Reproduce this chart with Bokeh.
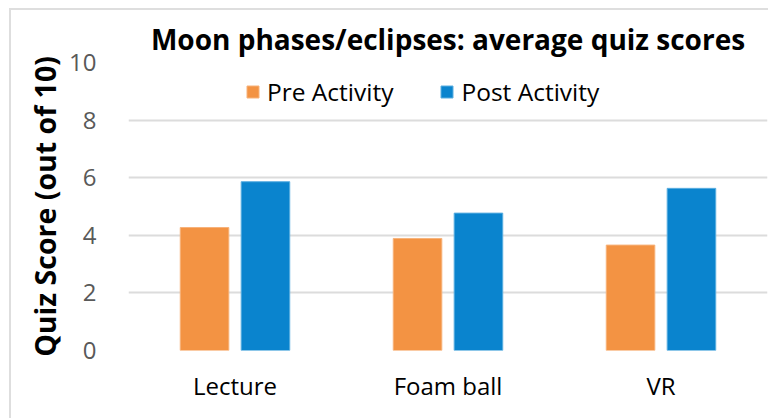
from bokeh.plotting import figure
from bokeh.models import ColumnDataSource, FactorRange, Range1d, Legend, LegendItem, FixedTicker
from bokeh.transform import dodge
from bokeh.embed import file_html
from bokeh.resources import INLINE

categories = ["Lecture", "Foam ball", "VR"]
pre_activity = [4.27, 3.89, 3.66]
post_activity = [5.86, 4.77, 5.63]
series_names = ["Pre Activity", "Post Activity"]
y_ticks = [0, 2, 4, 6, 8, 10]
title_text = "Moon phases/eclipses: average quiz scores"
y_label = "Quiz Score (out of 10)"

FONT = "Open Sans"
ORANGE = "#F39343"
BLUE = "#0A84CE"
GRID = "#DCDCDC"

source = ColumnDataSource(data=dict(cat=categories, pre=pre_activity, post=post_activity))

p = figure(
    x_range=FactorRange(*categories, range_padding=0),
    y_range=Range1d(0, 10),
    width=759, height=410,
    output_backend="svg", toolbar_location=None,
    min_border_left=117, min_border_right=3,
    min_border_top=52, min_border_bottom=70,
)
p.styles = {"margin-left": "9px", "margin-top": "8px",
            "border-left": "2px solid #DEDEDE", "border-top": "2px solid #DEDEDE"}

p.title.text = title_text
p.title.align = "center"
p.title.text_font = FONT
p.title.text_font_style = "bold"
p.title.text_font_size = "28px"
p.title.text_color = "#000000"
p.title.standoff = 9
p.title.offset = -5

r_pre = p.vbar(x=dodge("cat", -0.143, range=p.x_range), top="pre", width=0.228,
               source=source, fill_color=ORANGE, line_color="#F7B27A", line_width=1)
r_post = p.vbar(x=dodge("cat", 0.143, range=p.x_range), top="post", width=0.228,
                source=source, fill_color=BLUE, line_color="#5AAEE0", line_width=1)

p.outline_line_color = None
p.xgrid.grid_line_color = None
p.ygrid.grid_line_color = GRID
p.ygrid.grid_line_width = 2
p.ygrid.level = "underlay"

p.yaxis.ticker = FixedTicker(ticks=y_ticks)
for ax in (p.xaxis[0], p.yaxis[0]):
    ax.axis_line_color = None
    ax.major_tick_line_color = None
    ax.minor_tick_line_color = None
    ax.major_label_text_font = FONT
    ax.major_label_text_font_size = "24px"
p.yaxis.major_label_text_color = "#595959"
p.yaxis.major_label_standoff = 26
p.xaxis.major_label_text_color = "#000000"
p.xaxis.major_label_standoff = 12
p.yaxis.axis_label = y_label
p.yaxis.axis_label_text_font = FONT
p.yaxis.axis_label_text_font_style = "bold"
p.yaxis.axis_label_text_font_size = "28.5px"
p.yaxis.axis_label_text_color = "#000000"
p.yaxis.axis_label_standoff = 2

legend = Legend(items=[LegendItem(label=series_names[0], renderers=[r_pre]),
                       LegendItem(label=series_names[1], renderers=[r_post])],
                orientation="horizontal", location=(117, 242),
                glyph_width=15, glyph_height=15, label_standoff=7, spacing=46,
                padding=0, margin=0, border_line_color=None, background_fill_alpha=0,
                label_text_font=FONT, label_text_font_size="24.5px", label_text_color="#000000")
p.add_layout(legend)

open("out.html", "w").write(file_html(p, INLINE))
